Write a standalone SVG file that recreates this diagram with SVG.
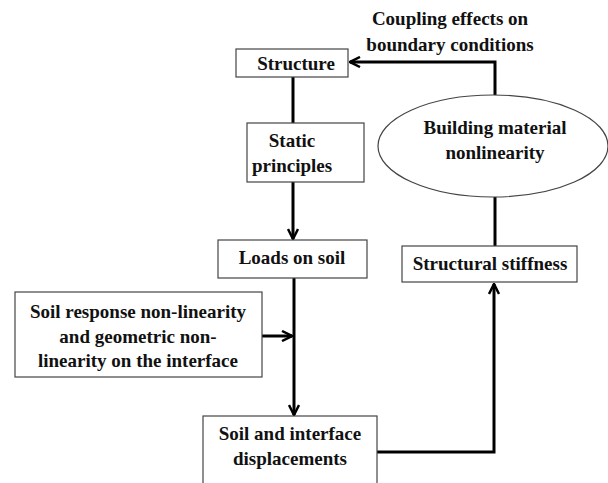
<svg xmlns="http://www.w3.org/2000/svg" width="608" height="483" viewBox="0 0 608 483">
<style>
.box{fill:#fff;stroke:#444;stroke-width:1.2}
.t{font-family:"Liberation Serif","Times New Roman",serif;font-weight:bold;font-size:19px;fill:#111;text-anchor:middle}
.c{fill:none;stroke:#000;stroke-width:3}
</style>
<defs>
<marker id="ah" viewBox="0 0 12 12" refX="11" refY="6" markerWidth="12" markerHeight="12" markerUnits="userSpaceOnUse" orient="auto">
<path d="M1,1 L11,6 L1,11" fill="none" stroke="#000" stroke-width="2.5"/>
</marker>
</defs>
<rect width="608" height="483" fill="#fff"/>
<g id="connectors">
<path class="c" d="M495,95 V62 H350" marker-end="url(#ah)"/>
<path class="c" d="M293,77 V123"/>
<path class="c" d="M293,182 V239" marker-end="url(#ah)"/>
<path class="c" d="M294,278 V415" marker-end="url(#ah)"/>
<path class="c" d="M262,336 H292" marker-end="url(#ah)"/>
<path class="c" d="M495,197 V246"/>
<path class="c" d="M377,452 H494 V284" marker-end="url(#ah)"/>
</g>
<g id="coupling-label">
<text class="t" x="450" y="25">Coupling effects on</text>
<text class="t" x="450" y="51">boundary conditions</text>
</g>
<g id="structure">
<rect class="box" x="236" y="49" width="112" height="28"/>
<text class="t" x="296" y="70">Structure</text>
</g>
<g id="static-principles">
<rect class="box" x="247" y="123" width="117" height="59"/>
<text class="t" x="292" y="147">Static</text>
<text class="t" x="292" y="172">principles</text>
</g>
<g id="loads-on-soil">
<rect class="box" x="218" y="240" width="149" height="38"/>
<text class="t" x="292" y="264">Loads on soil</text>
</g>
<g id="soil-response">
<rect class="box" x="15" y="292" width="247" height="85"/>
<text class="t" x="138" y="318">Soil  response non-linearity</text>
<text class="t" x="138" y="343">and geometric non-</text>
<text class="t" x="138" y="367">linearity on the interface</text>
</g>
<g id="soil-displacements">
<rect class="box" x="203" y="416" width="174" height="80"/>
<text class="t" x="290" y="440">Soil and interface</text>
<text class="t" x="290" y="465">displacements</text>
</g>
<g id="building-material">
<ellipse class="box" cx="493" cy="146" rx="115" ry="51"/>
<text class="t" x="495" y="134">Building material</text>
<text class="t" x="495" y="159">nonlinearity</text>
</g>
<g id="structural-stiffness">
<rect class="box" x="402" y="246" width="175" height="36"/>
<text class="t" x="490" y="270">Structural stiffness</text>
</g>
</svg>
